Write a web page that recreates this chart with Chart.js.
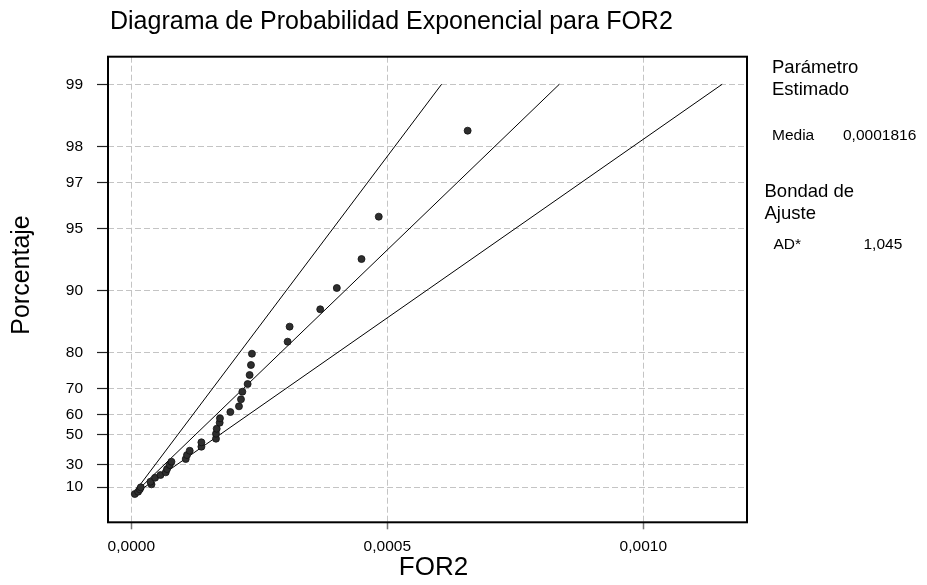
<!DOCTYPE html>
<html>
<head>
<meta charset="utf-8">
<script src="https://cdn.jsdelivr.net/npm/chart.js@4.4.1/dist/chart.umd.min.js"></script>
<style>
  body { margin: 0; background: #fff; }
</style>
</head>
<body>
<canvas id="prob-plot" width="927" height="585"></canvas>
<script>
// Datos (FOR2 y su porcentaje acumulado)
const forValues = [
  0.0000068, 0.0000133, 0.0000166, 0.0000185, 0.0000394, 0.0000374, 0.0000464,
  0.0000570, 0.0000673, 0.0000698, 0.0000751, 0.0000784, 0.0001063, 0.0001088,
  0.0001141, 0.0001369, 0.0001369, 0.0001654, 0.0001654, 0.0001668, 0.0001726,
  0.0001732, 0.0001935, 0.0002103, 0.0002142, 0.0002169, 0.0002272, 0.0002311,
  0.0002337, 0.0002356, 0.0003053, 0.0003092, 0.0003690, 0.0004014, 0.0004496,
  0.0004833, 0.0006569
];
const pctValues = [
  2.65, 5.12, 7.63, 9.67, 12.65, 15.15, 18.86,
  21.27, 23.61, 26.38, 29.59, 32.14, 34.16, 37.04,
  39.99, 42.62, 45.37, 47.52, 50.37, 53.07, 56.11,
  58.22, 61.06, 63.46, 66.21, 68.96, 71.52, 74.25,
  76.97, 79.70, 82.25, 85.00, 87.64, 90.26, 92.95,
  95.61, 98.32
];

// Rectas: ajuste exponencial y limites, extremos en porcentaje
const linePct = [3, 99];
const fitLineX = [0.0000055, 0.000836];
const lowerLineX = [0.0000040, 0.000606];
const upperLineX = [0.0000076, 0.001154];

// Ejes
const yTickPct = [10, 30, 50, 60, 70, 80, 90, 95, 97, 98, 99];
const xTickValues = [0, 0.0005, 0.001];
const xTickLabels = ["0,0000", "0,0005", "0,0010"];
const xMin = -0.0000455, xMax = 0.0012025;
const yMin = -0.289, yMax = 4.913; // en escala -ln(1-p)

// Textos
const chartTitle = "Diagrama de Probabilidad Exponencial para FOR2";
const xTitle = "FOR2";
const yTitle = "Porcentaje";
const paramHeader = ["Parámetro", "Estimado"];
const paramRow = ["Media", "0,0001816"];
const fitHeader = ["Bondad de", "Ajuste"];
const fitRow = ["AD*", "1,045"];

const FONT = '"Liberation Sans", Arial, sans-serif';

// escala de probabilidad exponencial
function toScore(p) {
  return -Math.log(1 - p / 100);
}

function makeLine(xs) {
  return xs.map((x, i) => ({ x: x, y: toScore(linePct[i]) }));
}

const points = forValues.map((x, i) => ({ x: x, y: toScore(pctValues[i]) }));

// marco y textos al estilo Minitab
const minitabText = {
  id: "minitabText",
  afterDraw(chart) {
    const ctx = chart.ctx;
    const area = chart.chartArea;
    ctx.save();

    ctx.strokeStyle = "#000";
    ctx.lineWidth = 2;
    ctx.strokeRect(area.left, area.top, area.right - area.left, area.bottom - area.top);

    ctx.fillStyle = "#000";
    ctx.textBaseline = "alphabetic";
    ctx.textAlign = "left";

    ctx.font = "25px " + FONT;
    ctx.fillText(chartTitle, area.left + 2, 28.5);

    ctx.font = "26px " + FONT;
    ctx.textAlign = "center";
    ctx.fillText(xTitle, 433.5, 575);

    ctx.save();
    ctx.translate(28.5, 275);
    ctx.rotate(-Math.PI / 2);
    ctx.font = "25px " + FONT;
    ctx.fillText(yTitle, 0, 0);
    ctx.restore();

    const px = area.right;
    ctx.textAlign = "left";
    ctx.font = "18.5px " + FONT;
    ctx.fillText(paramHeader[0], px + 25, 73.3);
    ctx.fillText(paramHeader[1], px + 25, 95);
    ctx.fillText(fitHeader[0], px + 17.5, 196.7);
    ctx.fillText(fitHeader[1], px + 17.5, 218.5);

    ctx.font = "15.5px " + FONT;
    ctx.fillText(paramRow[0], px + 25, 140);
    ctx.fillText(paramRow[1], px + 96, 140);
    ctx.fillText(fitRow[0], px + 26.5, 249.3);
    ctx.fillText(fitRow[1], px + 116.5, 249.3);

    ctx.restore();
  }
};

const lineStyle = {
  showLine: true,
  pointRadius: 0,
  borderColor: "#000",
  borderWidth: 1,
  fill: false
};

new Chart(document.getElementById("prob-plot"), {
  type: "scatter",
  data: {
    datasets: [
      {
        label: "FOR2",
        data: points,
        pointRadius: 3.5,
        pointBackgroundColor: "#2e2e2e",
        pointBorderColor: "#111",
        pointBorderWidth: 0.8
      },
      Object.assign({ label: "Ajuste", data: makeLine(fitLineX) }, lineStyle),
      Object.assign({ label: "Inferior", data: makeLine(lowerLineX) }, lineStyle),
      Object.assign({ label: "Superior", data: makeLine(upperLineX) }, lineStyle)
    ]
  },
  options: {
    responsive: false,
    animation: false,
    layout: { padding: { left: 0, right: 180, top: 56.7, bottom: 0 } },
    plugins: {
      legend: { display: false },
      tooltip: { enabled: false },
      title: { display: false }
    },
    scales: {
      x: {
        type: "linear",
        min: xMin,
        max: xMax,
        border: { display: false, dash: [6, 3] },
        grid: {
          color: "#c4c4c4",
          lineWidth: 1,
          tickLength: 7,
          tickColor: "#777",
          tickBorderDash: [],
          tickWidth: 1.5
        },
        afterBuildTicks: (scale) => {
          scale.ticks = xTickValues.map((v) => ({ value: v }));
        },
        afterFit: (scale) => {
          scale.height = 62.7;
        },
        ticks: {
          autoSkip: false,
          maxRotation: 0,
          padding: 8,
          color: "#000",
          font: { family: FONT, size: 15.5 },
          callback: (value, index) => xTickLabels[index]
        }
      },
      y: {
        type: "linear",
        min: yMin,
        max: yMax,
        border: { display: false, dash: [6, 3] },
        grid: {
          color: "#c4c4c4",
          lineWidth: 1,
          tickLength: 11,
          tickColor: "#222",
          tickBorderDash: [],
          tickWidth: 1.2
        },
        afterBuildTicks: (scale) => {
          scale.ticks = yTickPct.map((p) => ({ value: toScore(p) }));
        },
        afterFit: (scale) => {
          scale.width = 108;
        },
        ticks: {
          autoSkip: false,
          padding: 14,
          color: "#000",
          font: { family: FONT, size: 15.5 },
          callback: (value, index) => String(yTickPct[index])
        }
      }
    }
  },
  plugins: [minitabText]
});
</script>
</body>
</html>
